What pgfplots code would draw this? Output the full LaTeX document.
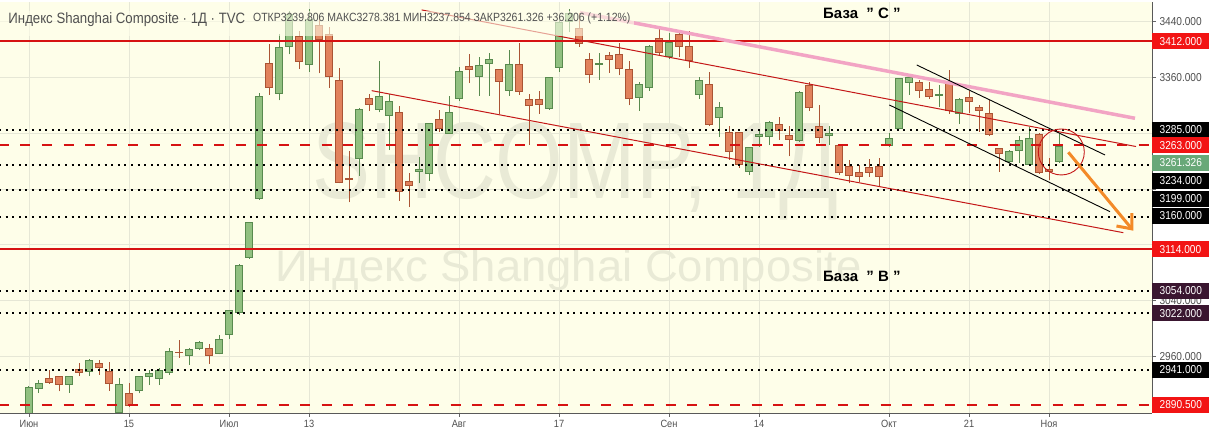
\documentclass[border=0pt]{standalone}
\usepackage{fontspec}
\setmainfont{Liberation Sans}
\newfontfamily\tvfont{Liberation Sans}[FakeStretch=0.88]
\usepackage{graphicx}
\usepackage{pgfplots}
\pgfplotsset{compat=1.18}
\usetikzlibrary{arrows.meta}

\definecolor{bgc}{RGB}{254,254,233}
\definecolor{gridc}{RGB}{230,231,214}
\definecolor{upF}{RGB}{145,192,128}
\definecolor{upD}{RGB}{88,138,78}
\definecolor{dnF}{RGB}{225,130,92}
\definecolor{dnD}{RGB}{170,84,52}
\definecolor{lvlred}{RGB}{214,18,18}
\definecolor{boxred}{RGB}{242,20,20}
\definecolor{boxplum}{RGB}{58,22,48}
\definecolor{boxgreen}{RGB}{104,168,120}
\definecolor{pinkl}{RGB}{242,164,196}
\definecolor{chanred}{RGB}{196,24,24}
\definecolor{arrowor}{RGB}{243,138,40}
\definecolor{wm}{RGB}{233,234,214}
\definecolor{txtgray}{RGB}{80,80,80}

\pgfplotsset{
  upw/.style={draw=upD, line width=1pt, solid, mark=none},
  dnw/.style={draw=dnD, line width=1pt, solid, mark=none},
  upb/.style={draw=upD, fill=upF, line width=0.9pt, solid, mark=none},
  dnb/.style={draw=dnD, fill=dnF, line width=0.9pt, solid, mark=none},
  dotl/.style={black, line width=2pt, dash pattern=on 2pt off 4.6pt},
  dashl/.style={lvlred, line width=2.6pt, dash pattern=on 10pt off 11.5pt},
  solidl/.style={lvlred, line width=2pt},
}

% one candle: index, open, high, low, close
\newcommand\candle[5]{%
  \pgfmathsetmacro\cA{#1-0.33}%
  \pgfmathsetmacro\cB{#1+0.33}%
  \pgfmathtruncatemacro\cUp{#5>=#2}%
  \edef\cTmp{%
    \noexpand\addplot[\ifnum\cUp=1 upw\else dnw\fi] coordinates {(#1,#4) (#1,#3)};
    \noexpand\addplot[\ifnum\cUp=1 upb\else dnb\fi]
      coordinates {(\cA,#2) (\cB,#2) (\cB,#5) (\cA,#5)} --cycle;}%
  \cTmp}

\begin{document}
\begin{tikzpicture}
\useasboundingbox (0,-25pt) rectangle (1209pt,413pt);
\fill[white] (0,-25pt) rectangle (1209pt,413pt);
\begin{axis}[
  name=ax, at={(0,0)}, anchor=south west,
  scale only axis, width=1152pt, height=411pt,
  xmin=-2.9, xmax=112.3, ymin=2879, ymax=3468.2,
  axis background/.style={fill=bgc},
  axis x line*=bottom, axis y line*=right,
  axis line style={draw=black!65, line width=0.8pt},
  xtick={0,10,20,28,43,53,64,73,86,94,102},
  xticklabels={Июн,15,Июл,13,Авг,17,Сен,14,Окт,21,Ноя},
  ytick={2960,3040,3120,3200,3280,3360,3440},
  yticklabels={2960.000,3040.000,,,,3360.000,3440.000},
  tick align=outside, major tick length=4pt,
  tick style={draw=black!60, line width=0.7pt},
  xmajorgrids, ymajorgrids, grid style={draw=gridc, line width=0.8pt},
  xticklabel style={text=txtgray, font=\tvfont\fontsize{10.5}{12}\selectfont},
  yticklabel style={text=txtgray, font=\tvfont\fontsize{11.5}{13}\selectfont},
  clip mode=individual,
]
% watermark
\node[anchor=base west, inner sep=0, text=wm] at (axis cs:28.3,3187.2)
  {\resizebox{526pt}{76pt}{\tvfont SHCOMP, 1Д}};
\node[anchor=base west, inner sep=0, text=wm] at (axis cs:24.6,3066.8)
  {\resizebox{587pt}{32pt}{\tvfont Индекс Shanghai Composite}};

% daily candles
\candle{0}{2868}{2917}{2866}{2915.43}
\candle{1}{2914.6}{2926}{2908}{2921.40}
\candle{2}{2928.7}{2940}{2921}{2923.37}
\candle{3}{2931}{2932}{2910}{2919.25}
\candle{4}{2920}{2931}{2908}{2930.80}
\candle{5}{2941.5}{2950}{2932}{2937.77}
\candle{6}{2938}{2956.5}{2932}{2955}
\candle{7}{2950}{2955}{2934}{2943.75}
\candle{8}{2938}{2952}{2911}{2920.90}
\candle{9}{2880}{2929}{2872}{2919.74}
\candle{10}{2907}{2922}{2888}{2890.03}
\candle{11}{2911}{2932}{2907}{2931.75}
\candle{12}{2931}{2941}{2919}{2935.87}
\candle{13}{2928}{2943}{2919}{2939.32}
\candle{14}{2937}{2972}{2934}{2967.63}
\candle{15}{2966.5}{2983}{2958}{2965.27}
\candle{16}{2961}{2972}{2948}{2969.92}
\candle{17}{2971}{2982}{2969}{2979.55}
\candle{18}{2972}{2978}{2949}{2961.52}
\candle{19}{2965}{2991}{2963}{2984.67}
\candle{20}{2991}{3026}{2985}{3025.98}
\candle{21}{3023}{3092}{3019}{3090.57}
\candle{22}{3102}{3153}{3100}{3152.81}
\candle{23}{3187}{3338}{3185}{3332.88}
\candle{24}{3380}{3408}{3335}{3345.34}
\candle{25}{3337}{3422}{3327}{3403.44}
\candle{26}{3404}{3456}{3393}{3450.59}
\candle{27}{3419}{3427}{3372}{3383.32}
\candle{28}{3379}{3458}{3368}{3443.29}
\candle{29}{3435}{3450}{3366}{3414.62}
\candle{30}{3422}{3432}{3345}{3361.30}
\candle{31}{3356}{3373}{3208}{3210.10}
\candle{32}{3215}{3254}{3181}{3214.13}
\candle{33}{3244}{3316}{3219}{3314.15}
\candle{34}{3330}{3337}{3312}{3320.90}
\candle{35}{3314}{3383}{3310}{3333.16}
\candle{36}{3305}{3337}{3256}{3325.11}
\candle{37}{3310}{3319}{3183}{3196.77}
\candle{38}{3211}{3223}{3174}{3205.23}
\candle{39}{3225}{3246}{3208}{3227.96}
\candle{40}{3222}{3295}{3212}{3294.55}
\candle{41}{3300}{3313}{3282}{3286.82}
\candle{42}{3280}{3334}{3279}{3310.01}
\candle{43}{3330}{3375}{3326}{3367.97}
\candle{44}{3376}{3393}{3352}{3371.69}
\candle{45}{3362}{3390}{3334}{3377.56}
\candle{46}{3380}{3395}{3334}{3386.46}
\candle{47}{3371}{3372}{3308}{3354.04}
\candle{48}{3341}{3400}{3334}{3379.25}
\candle{49}{3379}{3409}{3335}{3340.29}
\candle{50}{3328}{3336}{3263}{3319.27}
\candle{51}{3329}{3340}{3308}{3320.73}
\candle{52}{3316}{3361}{3314}{3360.10}
\candle{53}{3375}{3443}{3368}{3438.80}
\candle{54}{3440}{3458}{3425}{3451.09}
\candle{55}{3430}{3452}{3404}{3408.13}
\candle{56}{3386}{3395}{3352}{3363.90}
\candle{57}{3378}{3395}{3357}{3380.68}
\candle{58}{3392}{3397}{3367}{3385.64}
\candle{59}{3393}{3409}{3363}{3373.58}
\candle{60}{3372}{3383}{3320}{3329.74}
\candle{61}{3332}{3353}{3312}{3350.44}
\candle{62}{3345}{3407}{3341}{3403.81}
\candle{63}{3416}{3431}{3391}{3395.68}
\candle{64}{3390}{3424}{3386}{3410.61}
\candle{65}{3421}{3428}{3390}{3404.80}
\candle{66}{3404}{3426}{3374}{3384.98}
\candle{67}{3336}{3360}{3329}{3355.37}
\candle{68}{3350}{3368}{3291}{3292.59}
\candle{69}{3302}{3325}{3275}{3316.42}
\candle{70}{3281}{3290}{3242}{3254.63}
\candle{71}{3281}{3282}{3230}{3234.82}
\candle{72}{3225}{3261}{3220}{3260.35}
\candle{73}{3275}{3285}{3261}{3278.81}
\candle{74}{3276}{3297}{3263}{3295.68}
\candle{75}{3293}{3304}{3270}{3283.92}
\candle{76}{3277}{3290}{3247}{3270.44}
\candle{77}{3270}{3340}{3268}{3338.09}
\candle{78}{3349}{3354}{3312}{3316.94}
\candle{79}{3290}{3321}{3266}{3274.30}
\candle{80}{3277}{3290}{3263}{3279.71}
\candle{81}{3263}{3265}{3220}{3223.18}
\candle{82}{3233}{3241}{3208}{3219.42}
\candle{83}{3224}{3234}{3210}{3217.53}
\candle{84}{3231}{3243}{3218}{3224.36}
\candle{85}{3233}{3245}{3204}{3218.05}
\candle{86}{3262}{3280}{3261}{3272.08}
\candle{87}{3287}{3359}{3286}{3358.47}
\candle{88}{3353}{3364}{3335}{3359.75}
\candle{89}{3353}{3356}{3331}{3340.68}
\candle{90}{3343}{3354}{3329}{3332.18}
\candle{91}{3334}{3349}{3318}{3336.36}
\candle{92}{3352}{3371}{3308}{3312.67}
\candle{93}{3308}{3330}{3293}{3328.10}
\candle{94}{3331}{3340}{3309}{3325.03}
\candle{95}{3317}{3321}{3282}{3312.50}
\candle{96}{3309}{3328}{3276}{3278.00}
\candle{97}{3258}{3259}{3225}{3251.12}
\candle{98}{3240}{3256}{3238}{3254.32}
\candle{99}{3256}{3276}{3238}{3269.24}
\candle{100}{3236}{3289}{3234}{3272.74}
\candle{101}{3278}{3280}{3222}{3224.53}
\candle{102}{3228}{3244}{3213}{3225.12}
\candle{103}{3239.806}{3278.381}{3237.854}{3261.326}

% horizontal levels
\addplot[solidl] coordinates {(-3,3412) (112.3,3412)};
\addplot[solidl] coordinates {(-3,3114) (112.3,3114)};
\addplot[dashl] coordinates {(-3,3263) (112.3,3263)};
\addplot[dashl] coordinates {(-3,2890.5) (112.3,2890.5)};
\addplot[dotl] coordinates {(-3,3285) (112.3,3285)};
\addplot[dotl] coordinates {(-3,3234) (112.3,3234)};
\addplot[dotl] coordinates {(-3,3199) (112.3,3199)};
\addplot[dotl] coordinates {(-3,3160) (112.3,3160)};
\addplot[dotl] coordinates {(-3,3054) (112.3,3054)};
\addplot[dotl] coordinates {(-3,3022) (112.3,3022)};
\addplot[dotl] coordinates {(-3,2941) (112.3,2941)};

% trend lines
\addplot[chanred, line width=1pt] coordinates {(39.27,3456.8) (110.7,3261)};
\addplot[chanred, line width=1pt] coordinates {(34.27,3341.1) (109.43,3137.5)};
\addplot[pinkl, line width=3.5pt] coordinates {(55.1,3453) (110.6,3301.5)};
\addplot[black, line width=0.9pt] coordinates {(88.77,3377.9) (107.6,3248.9)};
\addplot[black, line width=0.9pt] coordinates {(86.03,3320.6) (108.1,3167.6)};

% marker ring and forecast arrow
\addplot[only marks, mark=o, mark size=23pt,
  mark options={draw=chanred, line width=0.9pt}]
  coordinates {(103.23,3253.2)};
\addplot[arrowor, line width=3pt, -{Straight Barb[length=12pt,width=20pt]}]
  coordinates {(103.93,3252.8) (110.43,3140.4)};

% header strip
\fill[bgc, fill opacity=0.6] (axis cs:-2.9,3455.5) rectangle (axis cs:60.5,3420);
\node[anchor=base west, inner sep=0, text=txtgray, font=\tvfont\fontsize{15}{15}\selectfont]
  at (axis cs:-2.07,3436.7) {Индекс Shanghai Composite · 1Д · TVC};
\node[anchor=base west, inner sep=0, text=txtgray, font=\tvfont\fontsize{11.9}{12}\selectfont]
  at (axis cs:22.4,3439.6) {ОТКР3239.806 МАКС3278.381 МИН3237.854 ЗАКР3261.326 +36.206 (+1.12\%)};

% zone labels
\node[anchor=base west, inner sep=0, font=\bfseries\fontsize{15}{15}\selectfont]
  at (axis cs:79.4,3444.9) {База \ " C "};
\node[anchor=base west, inner sep=0, font=\bfseries\fontsize{15}{15}\selectfont]
  at (axis cs:79.4,3066.8) {База \ " В "};

% anchors for price tags
\coordinate (p1) at (axis cs:112.3,3412);
\coordinate (p2) at (axis cs:112.3,3285);
\coordinate (p3) at (axis cs:112.3,3263);
\coordinate (p4) at (axis cs:112.3,3237.4);
\coordinate (p5) at (axis cs:112.3,3211.6);
\coordinate (p6) at (axis cs:112.3,3185.8);
\coordinate (p7) at (axis cs:112.3,3161.4);
\coordinate (p8) at (axis cs:112.3,3114);
\coordinate (p9) at (axis cs:112.3,3054);
\coordinate (p10) at (axis cs:112.3,3022);
\coordinate (p11) at (axis cs:112.3,2941);
\coordinate (p12) at (axis cs:112.3,2890.5);
\end{axis}

\tikzset{lb/.style={fill=#1, text=white, anchor=west, inner sep=0pt,
  minimum height=16pt, font=\tvfont\fontsize{11.5}{13}\selectfont}}
\newcommand\tag[3]{\node[lb=#2] at (#1) {\makebox[57pt][l]{\hspace{7.5pt}#3}};}
\tag{p1}{boxred}{3412.000}
\tag{p2}{black}{3285.000}
\tag{p3}{boxred}{3263.000}
\tag{p4}{boxgreen}{3261.326}
\tag{p5}{black}{3234.000}
\tag{p6}{black}{3199.000}
\tag{p7}{black}{3160.000}
\tag{p8}{boxred}{3114.000}
\tag{p9}{boxplum}{3054.000}
\tag{p10}{boxplum}{3022.000}
\tag{p11}{black}{2941.000}
\tag{p12}{boxred}{2890.500}
\end{tikzpicture}
\end{document}
